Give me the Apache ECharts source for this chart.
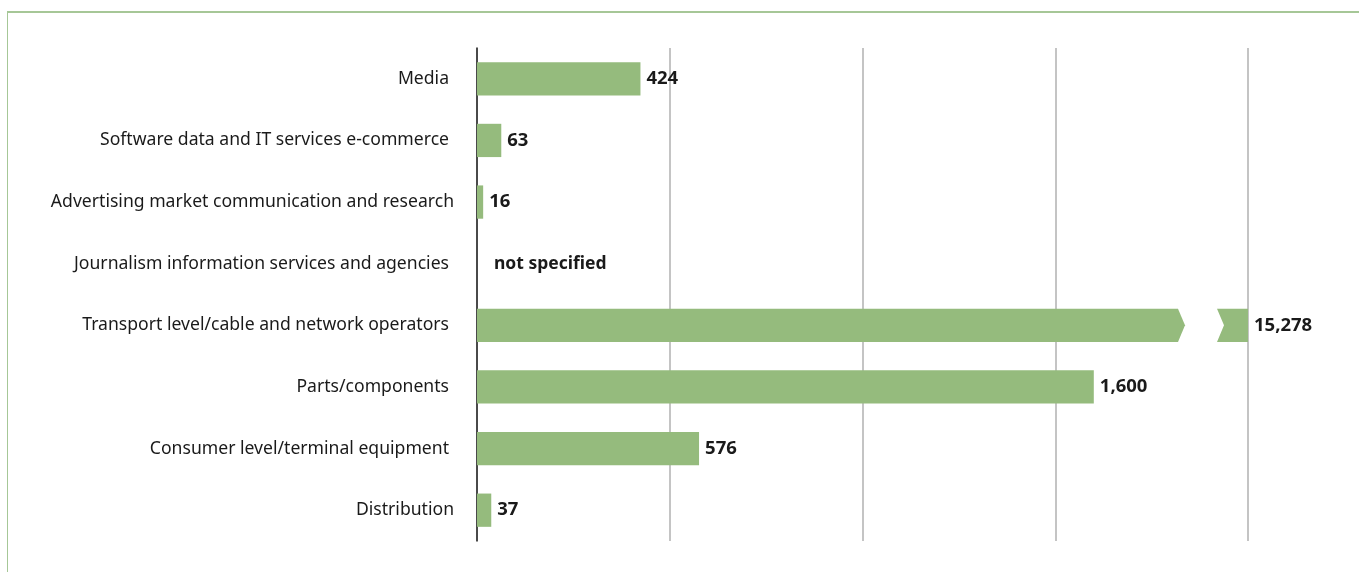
<!DOCTYPE html>
<html>
<head>
<meta charset="utf-8">
<script src="https://cdn.jsdelivr.net/npm/echarts@6/dist/echarts.min.js"></script>
<style>
  html, body { margin: 0; padding: 0; background: #fff; }
  #frame { position: absolute; left: 7px; top: 11px; width: 1400px; height: 600px;
           border-left: 1px solid #a6c797; border-top: 2px solid #a6c797; box-sizing: border-box; }
  #chart { position: absolute; left: 0; top: 0; width: 1359px; height: 572px; }
</style>
</head>
<body>
<div id="frame"></div>
<div id="chart"></div>
<script>
// Sectors, top to bottom
const categories = [
  'Media',
  'Software data and IT services e-commerce',
  'Advertising market communication and research',
  'Journalism information services and agencies',
  'Transport level/cable and network operators',
  'Parts/components',
  'Consumer level/terminal equipment',
  'Distribution'
];
// Count per sector; null = not specified
const values = [424, 63, 16, null, 15278, 1600, 576, 37];
// Visible range of the value axis; larger values are drawn with a break
const axisMax = 2000;
const axisStep = 500;

const BAR_COLOR = '#95bb7d';
const FONT = '"Noto Sans", "Open Sans", sans-serif';

// Labels that sit slightly closer to the axis
const nearLabels = new Set(['Advertising market communication and research', 'Distribution']);

const chart = echarts.init(document.getElementById('chart'), null, { renderer: 'canvas' });

function renderBar(params, api) {
  const val = api.value(0);
  const cat = api.value(1);
  const band = api.size([0, 1])[1];
  const h = band * 0.54;
  const start = api.coord([0, cat]);
  const cy = start[1];
  const top = cy - h / 2;
  const children = [];
  const labelStyle = {
    fill: '#1a1a1a', font: 'bold 18.5px ' + FONT, textVerticalAlign: 'middle', textAlign: 'left'
  };

  if (val == null || isNaN(val)) {
    children.push({
      type: 'text', x: start[0] + 17, y: cy,
      style: Object.assign({}, labelStyle, { text: 'not specified', font: 'bold 17.5px ' + FONT })
    });
    return { type: 'group', children };
  }

  const shown = Math.min(val, axisMax);
  const end = api.coord([shown, cat]);
  const x0 = start[0];
  const x1 = end[0];

  if (val > axisMax) {
    // broken bar: two pieces separated by a chevron-shaped gap
    const gapR = x1 - 31;   // left edge of the right piece (at top)
    const gapL = x1 - 70;   // right edge of the left piece (at top)
    const tip = 7;
    children.push({
      type: 'polygon',
      shape: { points: [[x0, top], [gapL, top], [gapL + tip, cy], [gapL, top + h], [x0, top + h]] },
      style: { fill: BAR_COLOR }
    });
    children.push({
      type: 'polygon',
      shape: { points: [[gapR, top], [x1, top], [x1, top + h], [gapR, top + h], [gapR + tip, cy]] },
      style: { fill: BAR_COLOR }
    });
  } else {
    children.push({
      type: 'rect',
      shape: { x: x0, y: top, width: x1 - x0, height: h },
      style: { fill: BAR_COLOR }
    });
  }
  children.push({
    type: 'text', x: x1 + 6, y: cy,
    style: Object.assign({ text: val.toLocaleString('en-US') }, labelStyle)
  });
  return { type: 'group', children };
}

chart.setOption({
  animation: false,
  backgroundColor: 'transparent',
  grid: { left: 477, right: 111, top: 48, bottom: 31, containLabel: false },
  xAxis: {
    type: 'value', min: 0, max: axisMax, interval: axisStep,
    axisLabel: { show: false },
    axisLine: { show: false },
    axisTick: { show: false },
    splitLine: { show: true, lineStyle: { color: '#c4c4c4', width: 2 } }
  },
  yAxis: {
    type: 'category',
    inverse: true,
    data: categories.map(c => ({
      value: c,
      textStyle: { padding: [0, nearLabels.has(c) ? 0 : 5, 0, 0] }
    })),
    axisLine: { show: true, onZero: false, lineStyle: { color: '#222', width: 1.5 } },
    axisTick: { show: false },
    axisLabel: { margin: 23, color: '#1a1a1a', fontSize: 17.6, fontFamily: FONT }
  },
  series: [{
    type: 'custom',
    renderItem: renderBar,
    encode: { x: 0, y: 1 },
    data: values.map((v, i) => [v == null ? NaN : v, i]),
    z: 3
  }]
});
</script>
</body>
</html>
